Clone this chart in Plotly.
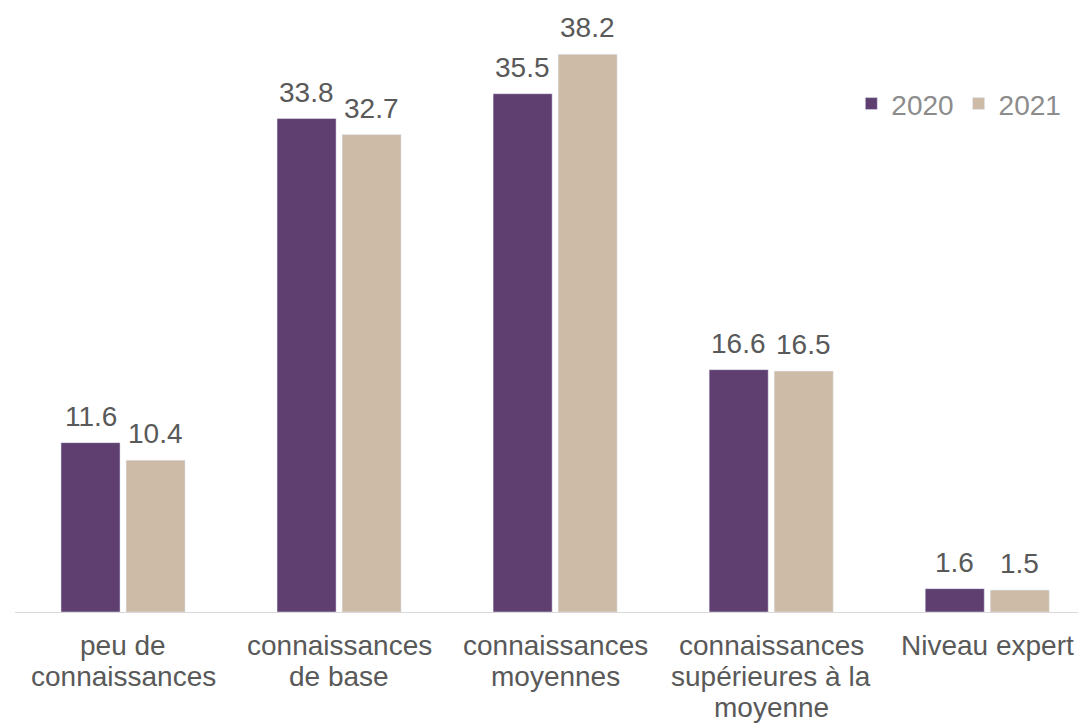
import plotly.graph_objects as go

categories = ["peu de connaissances", "connaissances de base", "connaissances moyennes",
              "connaissances supérieures à la moyenne", "Niveau expert"]
tick_lines = [["peu de", "connaissances"], ["connaissances", "de base"], ["connaissances", "moyennes"],
              ["connaissances", "supérieures à la", "moyenne"], ["Niveau expert"]]
values_2020 = [11.6, 33.8, 35.5, 16.6, 1.6]
values_2021 = [10.4, 32.7, 38.2, 16.5, 1.5]
series_names = ["2020", "2021"]
colors = ["#5E3F70", "#CDBBA8"]

font_family = "Liberation Sans, Arial, sans-serif"
FS = 28
fig = go.Figure()
for name, vals, col in zip(series_names, [values_2020, values_2021], colors):
    fig.add_trace(go.Bar(x=categories, y=vals, name=name, marker_color=col))

# data labels
slot_px = 65
for si, vals in enumerate([values_2020, values_2021]):
    xs = -slot_px / 2 if si == 0 else slot_px / 2
    for c, v in zip(categories, vals):
        fig.add_annotation(x=c, y=v, xref="x", yref="y", text=f"{v:.1f}", showarrow=False,
                           xshift=xs, yanchor="bottom", yshift=9,
                           font=dict(size=FS, color="#595959", family=font_family))

# category labels with tight line spacing
for c, lines in zip(categories, tick_lines):
    for i, ln in enumerate(lines):
        fig.add_annotation(x=c, y=0, xref="x", yref="paper", text=ln, showarrow=False,
                           yanchor="middle", yshift=-33 - 31 * i,
                           font=dict(size=FS, color="#595959", family=font_family))

fig.update_layout(
    width=1078, height=723,
    margin=dict(l=15, r=0, t=28, b=111),
    paper_bgcolor="white", plot_bgcolor="white",
    barmode="group", bargap=0.398, bargroupgap=0.092,
    font=dict(family=font_family, size=FS, color="#595959"),
    showlegend=True,
    legend=dict(orientation="h", x=0.989, xanchor="right", y=0.87, yanchor="middle",
                font=dict(size=FS, color="#8C8C8C"), traceorder="normal",
                itemwidth=30, bgcolor="rgba(0,0,0,0)"),
    xaxis=dict(range=[-0.5, 4.42], showline=True, linecolor="#D9D9D9", linewidth=1,
               ticks="", showgrid=False, showticklabels=False),
    yaxis=dict(range=[0, 40], visible=False, showgrid=False, zeroline=False),
)
fig.write_html("out.html")
